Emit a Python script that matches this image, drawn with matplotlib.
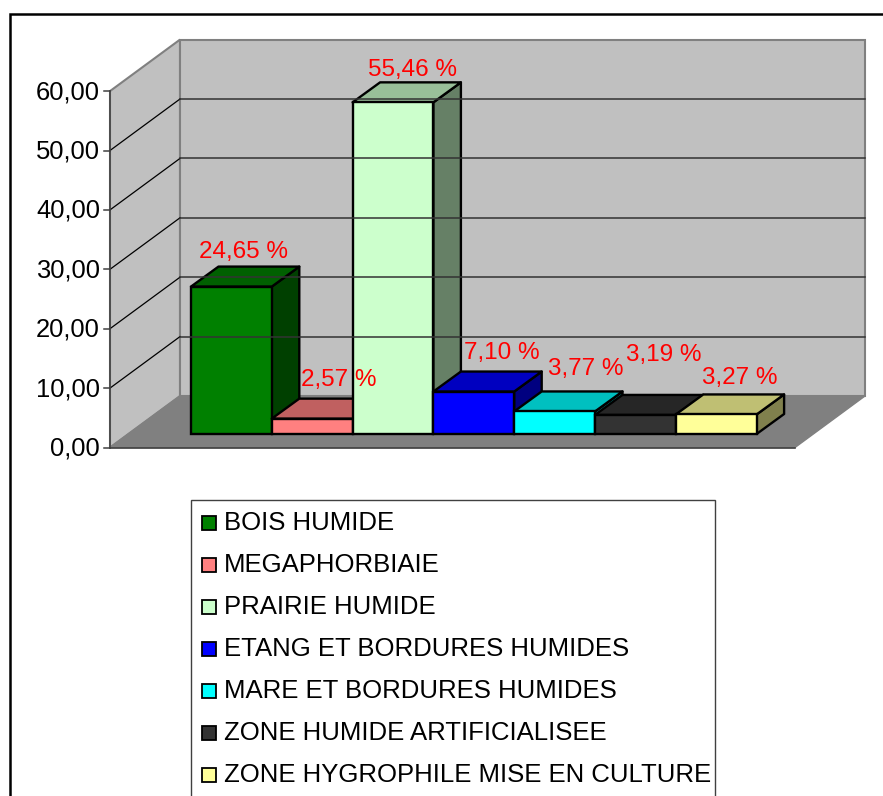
"""Excel style 3D column chart of wetland types, drawn with plain polygons."""

import matplotlib
matplotlib.use("Agg")
import matplotlib.pyplot as plt
from matplotlib.patches import Polygon, Rectangle

plt.rcParams["font.family"] = ["Liberation Sans", "DejaVu Sans"]

categories = [
    "BOIS HUMIDE",
    "MEGAPHORBIAIE",
    "PRAIRIE HUMIDE",
    "ETANG ET BORDURES HUMIDES",
    "MARE ET BORDURES HUMIDES",
    "ZONE HUMIDE ARTIFICIALISEE",
    "ZONE HYGROPHILE MISE EN CULTURE",
]
values = [24.65, 2.57, 55.46, 7.10, 3.77, 3.19, 3.27]
value_labels = ["24,65 %", "2,57 %", "55,46 %", "7,10 %", "3,77 %", "3,19 %", "3,27 %"]
y_ticks = [0, 10, 20, 30, 40, 50, 60]
y_tick_labels = ["0,00", "10,00", "20,00", "30,00", "40,00", "50,00", "60,00"]

# hand placed label offsets from the bar top / centre, as in the original sheet
label_dx = [12, 27, 20, 28, 31, 28, 24]
label_dy = [-35, -39, -32, -39, -42, -60, -36]

front_colors = ["#008000", "#FF8080", "#CCFFCC", "#0000FF", "#00FFFF", "#333333", "#FFFF99"]
top_colors = ["#006000", "#C06060", "#99BF99", "#0000C0", "#00C0C0", "#262626", "#BFBF73"]
side_colors = ["#004000", "#804040", "#668066", "#000080", "#008080", "#1A1A1A", "#80804D"]

# geometry in pixels of the 883x796 picture
FRONT_LEFT = 110
FRONT_RIGHT = 795
AXIS_ZERO = 447.5
UNIT = 5.94
DEPTH_X = 70
DEPTH_Y = 51.5
BAR_LEFT = 191
BAR_WIDTH = 80.8
BAR_BASE = 434
BAR_UNIT = 5.98
BAR_DX = 27.5
BAR_DY = 20
EDGE = 1.7

fig = plt.figure(figsize=(8.83, 7.96), dpi=100)
ax = fig.add_axes([0, 0, 1, 1])
ax.set_xlim(0, 883)
ax.set_ylim(796, 0)
ax.axis("off")


def axis_y(v):
    return AXIS_ZERO - v * UNIT


# chart frame, only top and left fall inside the picture
ax.plot([9.5, 9.5, 883], [796, 14, 14], color="black", linewidth=1.8, solid_joinstyle="miter")

# walls and floor
top = axis_y(60)
back_left = FRONT_LEFT + DEPTH_X
back_right = FRONT_RIGHT + DEPTH_X
back_base = AXIS_ZERO - DEPTH_Y
ax.add_patch(Polygon([(FRONT_LEFT, top), (back_left, top - DEPTH_Y), (back_left, back_base), (FRONT_LEFT, AXIS_ZERO)],
                     facecolor="#C0C0C0", edgecolor="#808080", linewidth=1.5))
ax.add_patch(Rectangle((back_left, top - DEPTH_Y), FRONT_RIGHT - FRONT_LEFT, AXIS_ZERO - top,
                       facecolor="#C0C0C0", edgecolor="#808080", linewidth=1.5))
ax.add_patch(Polygon([(FRONT_LEFT, AXIS_ZERO), (back_left, back_base), (back_right, back_base), (FRONT_RIGHT, AXIS_ZERO)],
                     facecolor="#808080", edgecolor="#808080", linewidth=1))
ax.plot([FRONT_LEFT, FRONT_RIGHT], [AXIS_ZERO, AXIS_ZERO], color="#404040", linewidth=1.2)

# gridlines and ticks
for v, lab in zip(y_ticks, y_tick_labels):
    y = axis_y(v)
    if 0 < v < 60:
        ax.plot([FRONT_LEFT, back_left], [y, y - DEPTH_Y], color="black", linewidth=0.9)
        ax.plot([back_left, back_right], [y - DEPTH_Y, y - DEPTH_Y], color="#333333", linewidth=1.1)
    ax.plot([FRONT_LEFT - 6, FRONT_LEFT], [y, y], color="#404040", linewidth=1.1)
    ax.text(FRONT_LEFT - 10, y + 1, lab, ha="right", va="center", fontsize=18.4, color="black")
ax.plot([FRONT_LEFT, FRONT_LEFT], [top, AXIS_ZERO], color="#404040", linewidth=1.1)

# bars, left to right so each one hides the side of the previous
for i, v in enumerate(values):
    x0 = BAR_LEFT + i * BAR_WIDTH
    x1 = x0 + BAR_WIDTH
    y1 = BAR_BASE - v * BAR_UNIT
    ax.add_patch(Polygon([(x1, y1), (x1 + BAR_DX, y1 - BAR_DY), (x1 + BAR_DX, BAR_BASE - BAR_DY), (x1, BAR_BASE)],
                         facecolor=side_colors[i], edgecolor="black", linewidth=EDGE, joinstyle="round"))
    ax.add_patch(Polygon([(x0, y1), (x0 + BAR_DX, y1 - BAR_DY), (x1 + BAR_DX, y1 - BAR_DY), (x1, y1)],
                         facecolor=top_colors[i], edgecolor="black", linewidth=EDGE, joinstyle="round"))
    ax.add_patch(Rectangle((x0, y1), BAR_WIDTH, v * BAR_UNIT,
                           facecolor=front_colors[i], edgecolor="black", linewidth=EDGE))

# value labels sit above every bar
for i, v in enumerate(values):
    cx = BAR_LEFT + (i + 0.5) * BAR_WIDTH + label_dx[i]
    cy = BAR_BASE - v * BAR_UNIT + label_dy[i]
    ax.text(cx, cy, value_labels[i], ha="center", va="center", fontsize=17.5, color="#FF0000")

# legend box, cut by the bottom of the picture
ax.add_patch(Rectangle((191, 500), 524, 320, facecolor="white", edgecolor="#404040", linewidth=1))
for i, name in enumerate(categories):
    y = 521 + i * 42
    ax.add_patch(Rectangle((201.5, y - 5), 14, 14, facecolor=front_colors[i], edgecolor="black", linewidth=1.3))
    ax.text(224, y + 2, name, ha="left", va="center", fontsize=18.5, color="black")

fig.savefig("out.png", dpi=100)
plt.close(fig)
